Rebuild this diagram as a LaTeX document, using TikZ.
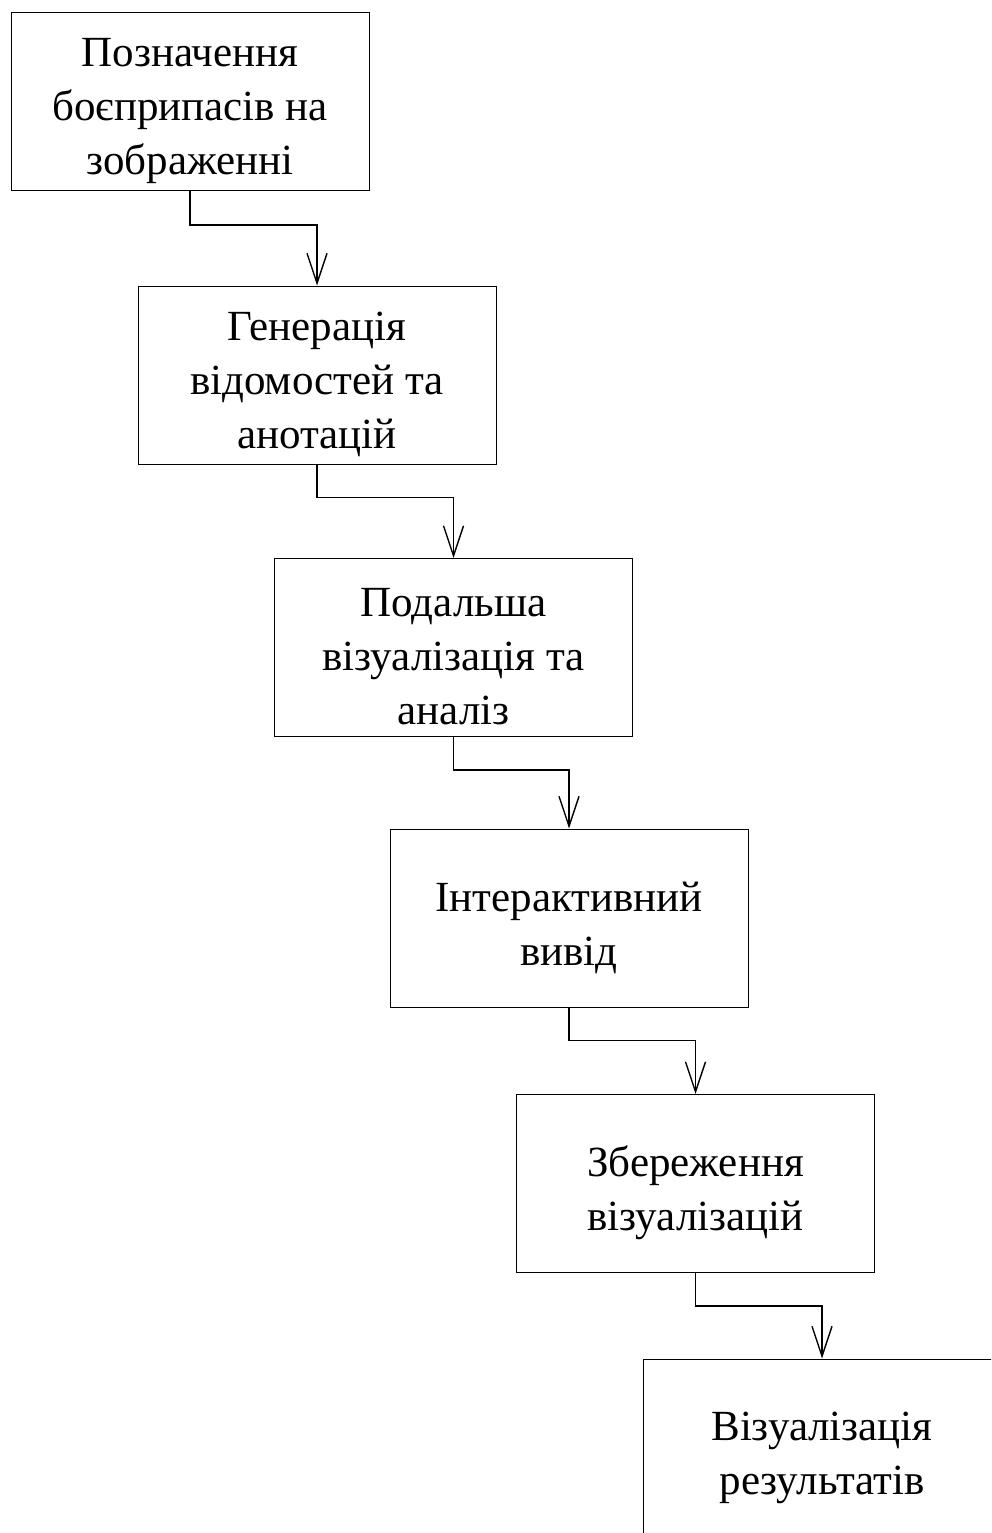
\documentclass[tikz,border=0pt]{standalone}
\usepackage{fontspec}
\setmainfont{Liberation Serif}
\usetikzlibrary{arrows.meta}
\usetikzlibrary{positioning}

\tikzset{
    stage/.style={draw, line width=1pt, minimum width=358pt, minimum height=178pt, inner sep=0pt},
    stagetext/.style={align=center, inner sep=0pt, font=\fontsize{43}{54}\selectfont},
    flow/.style={line width=1.6pt, -{Straight Barb[length=30pt, width=20pt, line width=1.4pt]}}
}

\begin{document}
\begin{tikzpicture}[x=1pt, y=-1pt]
    \useasboundingbox (0,0) rectangle (991,1533);
    \clip (0,0) rectangle (991,1533);

    % --- Stages ---
    \node[stage] (pozn)  at (190,101.5)    {};
    \node[stage] (gener) at (317,375)      {};
    \node[stage] (podal) at (453.5,647.5)  {};
    \node[stage] (inter) at (569,918)      {};
    \node[stage] (zber)  at (695.5,1183.5) {};
    \node[stage] (viz)   at (822,1448)     {};

    % --- Texts ---
    \node[stagetext] (pozn-t)  at ([yshift=-9.5pt]pozn.center)  {Позначення\\боєприпасів на\\зображенні};
    \node[stagetext] (gener-t) at ([yshift=-9.5pt]gener.center) {Генерація\\відомостей та\\анотацій};
    \node[stagetext] (podal-t) at ([yshift=-9.5pt]podal.center) {Подальша\\візуалізація та\\аналіз};
    \node[stagetext] (inter-t) at ([yshift=-9.5pt]inter.center) {Інтерактивний\\вивід};
    \node[stagetext] (zber-t)  at ([yshift=-9.5pt]zber.center)  {Збереження\\візуалізацій};
    \node[stagetext] (viz-t)   at ([yshift=-9.5pt]viz.center)   {Візуалізація\\результатів};

    % --- Connectors ---
    \draw[flow] (pozn.south)  -- ++(0,34) -| (gener.north);
    \draw[flow] (gener.south) -- ++(0,33) -| (podal.north);
    \draw[flow] (podal.south) -- ++(0,33) -| (inter.north);
    \draw[flow] (inter.south) -- ++(0,33) -| (zber.north);
    \draw[flow] (zber.south)  -- ++(0,33) -| (viz.north);
\end{tikzpicture}
\end{document}
